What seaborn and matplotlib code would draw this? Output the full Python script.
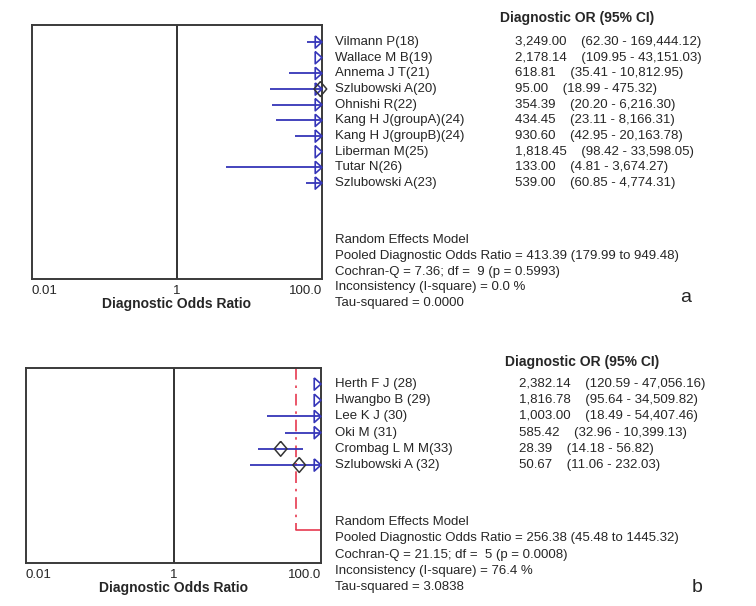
import numpy as np
import pandas as pd
import matplotlib
matplotlib.use("Agg")
import matplotlib.pyplot as plt
from matplotlib.transforms import blended_transform_factory
import seaborn as sns

# panel a - data
studies_a = ["Vilmann P(18)", "Wallace M B(19)", "Annema J T(21)", "Szlubowski A(20)",
             "Ohnishi R(22)", "Kang H J(groupA)(24)", "Kang H J(groupB)(24)",
             "Liberman M(25)", "Tutar N(26)", "Szlubowski A(23)"]
dor_a = [3249.00, 2178.14, 618.81, 95.00, 354.39, 434.45, 930.60, 1818.45, 133.00, 539.00]
lo_a = [62.30, 109.95, 35.41, 18.99, 20.20, 23.11, 42.95, 98.42, 4.81, 60.85]
hi_a = [169444.12, 43151.03, 10812.95, 475.32, 6216.30, 8166.31, 20163.78, 33598.05, 3674.27, 4774.31]
pooled_a = [413.39, 179.99, 949.48]
stats_a = ["Random Effects Model",
           "Pooled Diagnostic Odds Ratio = 413.39 (179.99 to 949.48)",
           "Cochran-Q = 7.36; df =  9 (p = 0.5993)",
           "Inconsistency (I-square) = 0.0 %",
           "Tau-squared = 0.0000"]

# panel b - data
studies_b = ["Herth F J (28)", "Hwangbo B (29)", "Lee K J (30)", "Oki M (31)",
             "Crombag L M M(33)", "Szlubowski A (32)"]
dor_b = [2382.14, 1816.78, 1003.00, 585.42, 28.39, 50.67]
lo_b = [120.59, 95.64, 18.49, 32.96, 14.18, 11.06]
hi_b = [47056.16, 34509.82, 54407.46, 10399.13, 56.82, 232.03]
pooled_b = [256.38, 45.48, 1445.32]
stats_b = ["Random Effects Model",
           "Pooled Diagnostic Odds Ratio = 256.38 (45.48 to 1445.32)",
           "Cochran-Q = 21.15; df =  5 (p = 0.0008)",
           "Inconsistency (I-square) = 76.4 %",
           "Tau-squared = 3.0838"]

sns.set_style("white")
plt.rcParams['font.family'] = ['Liberation Sans', 'DejaVu Sans']

W, H = 756, 606
fig = plt.figure(figsize=(W / 100, H / 100), dpi=100)

BLUE = "#3535b8"
RED = "#e63a50"
XMIN, XMAX = 0.01, 100.0
FS = 9.5

# open arrow head with its tip at the marker origin
arrow_marker = [(-1, 0.9), (0, 0), (-1, -0.9), (-1, 0.9)]
diamond_marker = [(0, 1), (0.85, 0), (0, -1), (-0.85, 0), (0, 1)]


def fmt(v):
    return f"{v:,.2f}"


def forest(box, studies, dor, lo, hi, pooled, stats, row0_px, row_step, stats_px,
           val_x, head_x, head_y, letter, letter_xy):
    left, top, right, bottom = box
    ax = fig.add_axes([left / W, 1 - bottom / H, (right - left) / W, (bottom - top) / H])
    n = len(studies)
    df = pd.DataFrame({"study": studies, "dor": dor, "lo": lo, "hi": hi, "row": np.arange(n)})

    ax.set_xscale("log")
    ax.set_xlim(XMIN, XMAX)
    ax.set_ylim((bottom - row0_px) / row_step, -(row0_px - top) / row_step)

    ax.axvline(1, color="#222222", lw=1.3)

    # red pooled reference line
    prow = n + 3
    ax.plot([pooled[1], pooled[1]], [ax.get_ylim()[1], prow], color=RED, lw=1.2,
            dashes=(7, 3.5, 1.5, 3.5))
    ax.plot([pooled[1], XMAX * 10], [prow, prow], color=RED, lw=1.2)

    # CI lines
    ax.hlines(df["row"], df["lo"].clip(XMIN, XMAX), df["hi"].clip(XMIN, XMAX),
              color=BLUE, lw=1.3)

    # arrows for CI exceeding the axis
    over = df[df["hi"] > XMAX].assign(edge=XMAX)
    sns.scatterplot(data=over, x="edge", y="row", ax=ax, marker=arrow_marker, s=95,
                    facecolor="none", edgecolor=BLUE, linewidth=1.2, clip_on=False,
                    zorder=4, legend=False)

    # point estimates within range
    inside = df[(df["dor"] >= XMIN) & (df["dor"] <= XMAX)]
    sns.scatterplot(data=inside, x="dor", y="row", ax=ax, marker=diamond_marker, s=115,
                    facecolor="none", edgecolor="#333333", linewidth=1.1, clip_on=False,
                    zorder=5, legend=False)

    for sp in ax.spines.values():
        sp.set_color("#3a3a3a")
        sp.set_linewidth(1.4)

    ax.set_yticks([])
    ax.set_ylabel("")
    ax.set_xticks([0.01, 1, 100])
    ax.xaxis.set_minor_locator(matplotlib.ticker.NullLocator())
    ax.set_xticklabels(["0.01", "1", "100.0"], fontsize=FS)
    tl = ax.get_xticklabels()
    tl[0].set_ha("left")
    tl[2].set_ha("right")
    ax.tick_params(axis="x", length=0, pad=4)
    ax.set_xlabel("Diagnostic Odds Ratio", fontsize=FS + 0.5, fontweight="bold", labelpad=0)

    tr = blended_transform_factory(fig.transFigure, ax.transData)
    for i, row in df.iterrows():
        ax.text(335 / W, row["row"], row["study"], transform=tr, fontsize=FS, va="center")
        ax.text(val_x / W, row["row"],
                f"{fmt(row['dor'])}    ({fmt(row['lo'])} - {fmt(row['hi'])})",
                transform=tr, fontsize=FS, va="center")

    fig.text(head_x / W, 1 - head_y / H, "Diagnostic OR (95% CI)", fontsize=FS + 0.5,
             fontweight="bold", ha="center", va="center")
    for s, py in zip(stats, stats_px):
        fig.text(335 / W, 1 - py / H, s, fontsize=FS, va="center")
    fig.text(letter_xy[0] / W, 1 - letter_xy[1] / H, letter, fontsize=14, va="center")
    return ax


forest((32, 25, 322, 279), studies_a, dor_a, lo_a, hi_a, pooled_a, stats_a,
       42, 15.67, [240, 256, 272, 287, 303], 515, 577, 18, "a", (680, 297))
forest((26, 368, 321, 563), studies_b, dor_b, lo_b, hi_b, pooled_b, stats_b,
       384, 16.2, [522, 538, 555, 571, 587], 519, 582, 362, "b", (692, 587))

fig.savefig("out.png", dpi=100)
